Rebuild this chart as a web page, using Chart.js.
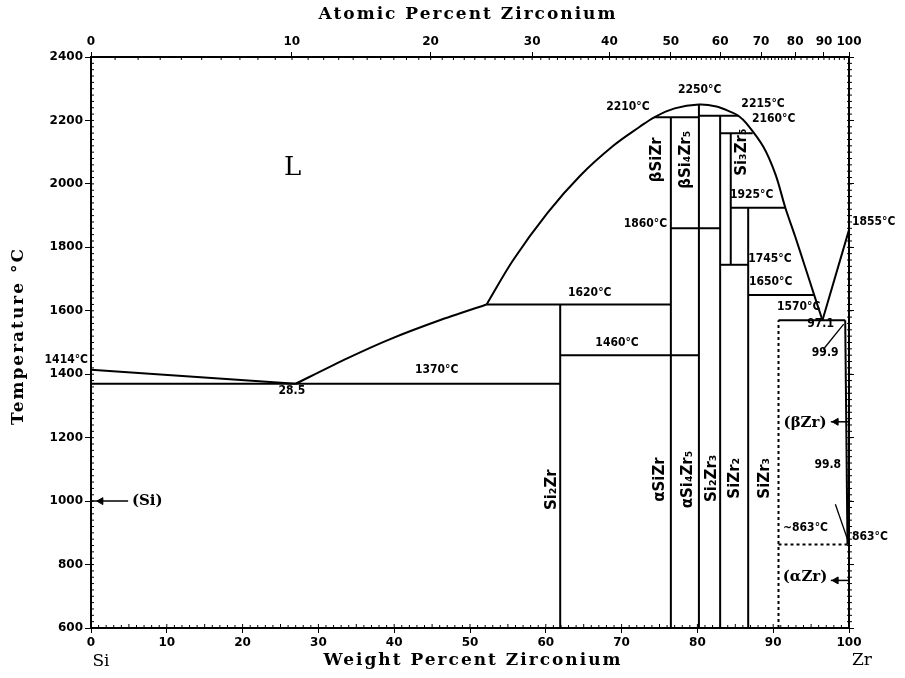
<!DOCTYPE html>
<html lang="en">
<head>
<meta charset="UTF-8" />
<title>Si-Zr phase diagram</title>
<script src="https://cdn.jsdelivr.net/npm/chart.js"></script>
<style>
  html, body { margin: 0; padding: 0; background: #fff; }
  #wrap { width: 905px; height: 678px; position: relative; }
</style>
</head>
<body>
<div id="wrap"><canvas id="phaseChart"></canvas></div>
<script>
// x = weight percent Zr, y = temperature in degrees C
const liquidusSi = [[0, 1414], [27, 1370]];
const liquidusSi2Zr = [[27, 1370], [33.8, 1450], [39.4, 1510], [46, 1570], [52.2, 1620]];
const liquidusDome = [[52.2, 1620], [55.7, 1760], [60.2, 1908], [64.5, 2025], [68.9, 2120], [72.4, 2180],
  [74.3, 2210], [77, 2238], [80.2, 2250], [82.5, 2244], [84.3, 2228], [85.4, 2215], [86.5, 2190],
  [88.7, 2117], [90.3, 2030], [91.6, 1925], [92.9, 1834], [94.2, 1739], [95.4, 1650], [96.5, 1570]];
const liquidusZr = [[96.5, 1570], [100, 1855]];
const betaZrSolvus = [[99.5, 1570], [99.8, 863]];

// invariant (horizontal) lines
const eutectic1370 = [[0, 1370], [61.9, 1370]];
const peritectic1620 = [[52.2, 1620], [76.5, 1620]];
const line1460 = [[61.9, 1460], [80.2, 1460]];
const line1860 = [[76.5, 1860], [83.0, 1860]];
const line2210 = [[74.3, 2210], [80.2, 2210]];
const line2215 = [[80.2, 2215], [85.4, 2215]];
const line2160 = [[83.0, 2160], [87.3, 2160]];
const line1925 = [[84.4, 1925], [91.6, 1925]];
const line1745 = [[83.0, 1745], [86.7, 1745]];
const line1650 = [[86.7, 1650], [95.4, 1650]];
const eutectic1570 = [[90.7, 1570], [99.5, 1570]];
const eutectoid863 = [[90.7, 863], [100, 863]];

// compounds (vertical lines)
const si2Zr = [[61.9, 600], [61.9, 1620]];
const siZr = [[76.5, 600], [76.5, 2210]];
const si4Zr5 = [[80.2, 600], [80.2, 2250]];
const si2Zr3 = [[83.0, 600], [83.0, 2215]];
const si3Zr5 = [[84.4, 1745], [84.4, 2160]];
const siZr2 = [[86.7, 600], [86.7, 1925]];
const siZr3 = [[90.7, 600], [90.7, 1570]];

// pointers and arrows
const pointer999 = [[96.6, 1478], [99.3, 1558]];
const pointer998 = [[98.2, 990], [99.8, 880]];
const arrowSi = [[0, 1000], [4.9, 1000]];
const arrowBetaZr = [[97.6, 1250], [100, 1250]];
const arrowAlphaZr = [[97.6, 750], [100, 750]];
const arrowHeads = [[1.3, 1000], [98.3, 1250], [98.3, 750]];

// axis ticks
const tempTicks = [600, 800, 1000, 1200, 1400, 1600, 1800, 2000, 2200, 2400];
const atomicTickLabels = ['0', '10', '20', '30', '40', '50', '60', '70', '80', '90', '100'];
const atomicTickWt = [0, 26.5, 44.8, 58.2, 68.4, 76.5, 83.0, 88.4, 92.9, 96.7, 100];

// annotations: text, wt%, °C, align
const notes = [
  ['2250°C', 80.3, 2296, 'center'],
  ['2210°C', 73.7, 2243, 'right'],
  ['2215°C', 85.8, 2252, 'left'],
  ['2160°C', 87.2, 2205, 'left'],
  ['1925°C', 84.3, 1965, 'left'],
  ['1860°C', 76.0, 1874, 'right'],
  ['1745°C', 86.7, 1764, 'left'],
  ['1650°C', 86.8, 1691, 'left'],
  ['1570°C', 90.5, 1613, 'left'],
  ['97.1', 94.5, 1560, 'left'],
  ['99.9', 95.1, 1466, 'left'],
  ['1855°C', 100.4, 1880, 'left'],
  ['1620°C', 65.8, 1657, 'center'],
  ['1460°C', 69.4, 1499, 'center'],
  ['1370°C', 45.6, 1414, 'center'],
  ['28.5', 26.5, 1349, 'center'],
  ['1414°C', -0.4, 1446, 'right'],
  ['99.8', 97.2, 1115, 'center'],
  ['~863°C', 91.3, 917, 'left'],
  ['863°C', 100.4, 888, 'left']
];
const phaseNotes = [
  ['(Si)', 5.4, 1000, 'left'],
  ['(βZr)', 94.2, 1247, 'center'],
  ['(αZr)', 94.2, 759, 'center']
];
const compoundNotes = [
  ['Si₂Zr', 60.8, 1036],
  ['αSiZr', 75.1, 1068],
  ['αSi₄Zr₅', 78.8, 1068],
  ['Si₂Zr₃', 81.9, 1072],
  ['SiZr₂', 85.0, 1072],
  ['SiZr₃', 88.9, 1072],
  ['βSiZr', 74.7, 2076],
  ['βSi₄Zr₅', 78.5, 2076],
  ['Si₃Zr₅', 85.9, 2100]
];

function toXY(arr) {
  return arr.map(p => ({ x: p[0], y: p[1] }));
}

function seg(arr, extra) {
  return Object.assign({
    data: toXY(arr),
    showLine: true,
    borderColor: '#000',
    borderWidth: 2,
    pointRadius: 0,
    fill: false,
    tension: 0
  }, extra || {});
}

const datasets = [
  seg(liquidusSi),
  seg(liquidusSi2Zr, { tension: 0.2 }),
  seg(liquidusDome, { tension: 0.35 }),
  seg(liquidusZr),
  seg(betaZrSolvus),
  seg(eutectic1370), seg(peritectic1620), seg(line1460), seg(line1860),
  seg(line2210), seg(line2215), seg(line2160), seg(line1925), seg(line1745),
  seg(line1650), seg(eutectic1570),
  seg(eutectoid863, { borderDash: [3, 3] }),
  seg(si2Zr), seg(siZr), seg(si4Zr5), seg(si2Zr3), seg(si3Zr5), seg(siZr2),
  seg(siZr3, { borderDash: [3, 3] }),
  seg(pointer999, { borderWidth: 1.3 }),
  seg(pointer998, { borderWidth: 1.3 }),
  seg(arrowSi, { borderWidth: 1.5 }),
  seg(arrowBetaZr, { borderWidth: 1.5 }),
  seg(arrowAlphaZr, { borderWidth: 1.5 }),
  {
    data: toXY(arrowHeads),
    showLine: false,
    pointStyle: 'triangle',
    rotation: 270,
    pointRadius: 4,
    backgroundColor: '#000',
    borderColor: '#000',
    borderWidth: 1
  }
];

// minor ticks, labels and axis titles
const decorPlugin = {
  id: 'decor',
  afterDraw(chart) {
    const ctx = chart.ctx;
    const xs = chart.scales.x;
    const ys = chart.scales.y;
    const area = chart.chartArea;
    ctx.save();
    ctx.strokeStyle = '#000';
    ctx.lineWidth = 1;
    ctx.beginPath();
    for (let w = 1; w < 100; w++) {
      const px = xs.getPixelForValue(w);
      ctx.moveTo(px, area.bottom);
      ctx.lineTo(px, area.bottom - (w % 5 === 0 ? 4 : 3));
    }
    for (let t = 620; t < 2400; t += 20) {
      const py = ys.getPixelForValue(t);
      ctx.moveTo(area.left, py);
      ctx.lineTo(area.left + 3, py);
      ctx.moveTo(area.right - 2, py);
      ctx.lineTo(area.right + 3, py);
    }
    // top axis: atomic percent
    for (let a = 1; a < 100; a += (a < 80 ? 1 : 2)) {
      const wt = 100 * 91.224 * a / (91.224 * a + 28.086 * (100 - a));
      const px = xs.getPixelForValue(wt);
      ctx.moveTo(px, area.top);
      ctx.lineTo(px, area.top + 3);
    }
    ctx.stroke();

    ctx.fillStyle = '#000';
    ctx.textBaseline = 'middle';
    ctx.font = 'bold 12px "DejaVu Sans Condensed", "DejaVu Sans", sans-serif';
    notes.forEach(n => {
      ctx.textAlign = n[3];
      ctx.fillText(n[0], xs.getPixelForValue(n[1]), ys.getPixelForValue(n[2]));
    });
    ctx.font = 'bold 15px "DejaVu Serif", serif';
    phaseNotes.forEach(n => {
      ctx.textAlign = n[3];
      ctx.fillText(n[0], xs.getPixelForValue(n[1]), ys.getPixelForValue(n[2]));
    });
    ctx.font = 'bold 15px "DejaVu Sans", sans-serif';
    ctx.textAlign = 'center';
    compoundNotes.forEach(n => {
      ctx.save();
      ctx.translate(xs.getPixelForValue(n[1]), ys.getPixelForValue(n[2]));
      ctx.rotate(-Math.PI / 2);
      ctx.fillText(n[0], 0, 0);
      ctx.restore();
    });
    ctx.font = '26px "DejaVu Serif", serif';
    ctx.fillText('L', xs.getPixelForValue(26.6), ys.getPixelForValue(2050));

    // axis titles
    ctx.font = 'bold 17px "DejaVu Serif", serif';
    ctx.letterSpacing = '2px';
    ctx.fillText('Atomic Percent Zirconium', 468, 15);
    ctx.fillText('Weight Percent Zirconium', 473, 661);
    ctx.letterSpacing = '0px';
    ctx.font = '17px "DejaVu Serif", serif';
    ctx.fillText('Si', 101, 662);
    ctx.fillText('Zr', 862, 661);
    ctx.save();
    ctx.translate(19, 336);
    ctx.rotate(-Math.PI / 2);
    ctx.font = 'bold 17px "DejaVu Serif", serif';
    ctx.letterSpacing = '2px';
    ctx.fillText('Temperature °C', 0, 0);
    ctx.restore();
    ctx.restore();
  }
};

const tickFont = { family: '"DejaVu Sans", sans-serif', size: 12, weight: 'bold' };

new Chart(document.getElementById('phaseChart'), {
  type: 'scatter',
  data: { datasets: datasets },
  options: {
    responsive: true,
    maintainAspectRatio: false,
    animation: false,
    devicePixelRatio: 1,
    layout: { padding: 0 },
    plugins: { legend: { display: false }, tooltip: { enabled: false } },
    scales: {
      x: {
        type: 'linear', position: 'bottom', min: 0, max: 100,
        afterFit: s => { s.height = 50; },
        ticks: { stepSize: 10, color: '#000', font: tickFont, maxRotation: 0, autoSkip: false, padding: 3,
          callback: v => String(v) },
        grid: { drawOnChartArea: false, drawTicks: true, tickLength: 5, color: '#000' },
        border: { color: '#000', width: 2 }
      },
      x2: {
        type: 'linear', position: 'top', min: 0, max: 100,
        afterFit: s => { s.height = 57; },
        afterBuildTicks: s => { s.ticks = atomicTickWt.map(v => ({ value: v })); },
        ticks: {
          color: '#000', font: tickFont, maxRotation: 0, autoSkip: false, padding: 3,
          callback: (v, i) => atomicTickLabels[i]
        },
        grid: { drawOnChartArea: false, drawTicks: true, tickLength: 5, color: '#000' },
        border: { color: '#000', width: 2 }
      },
      y: {
        type: 'linear', position: 'left', min: 600, max: 2400,
        afterFit: s => { s.width = 91; },
        afterBuildTicks: s => { s.ticks = tempTicks.map(v => ({ value: v })); },
        ticks: { color: '#000', font: tickFont, padding: 2, callback: v => String(v) },
        grid: { drawOnChartArea: false, drawTicks: true, tickLength: 6, color: '#000' },
        border: { color: '#000', width: 2 }
      },
      y2: {
        type: 'linear', position: 'right', min: 600, max: 2400,
        afterFit: s => { s.width = 56; },
        afterBuildTicks: s => { s.ticks = tempTicks.map(v => ({ value: v })); },
        ticks: { display: false },
        grid: { drawOnChartArea: false, drawTicks: true, tickLength: 5, color: '#000' },
        border: { color: '#000', width: 2 }
      }
    }
  },
  plugins: [decorPlugin]
});
</script>
</body>
</html>
